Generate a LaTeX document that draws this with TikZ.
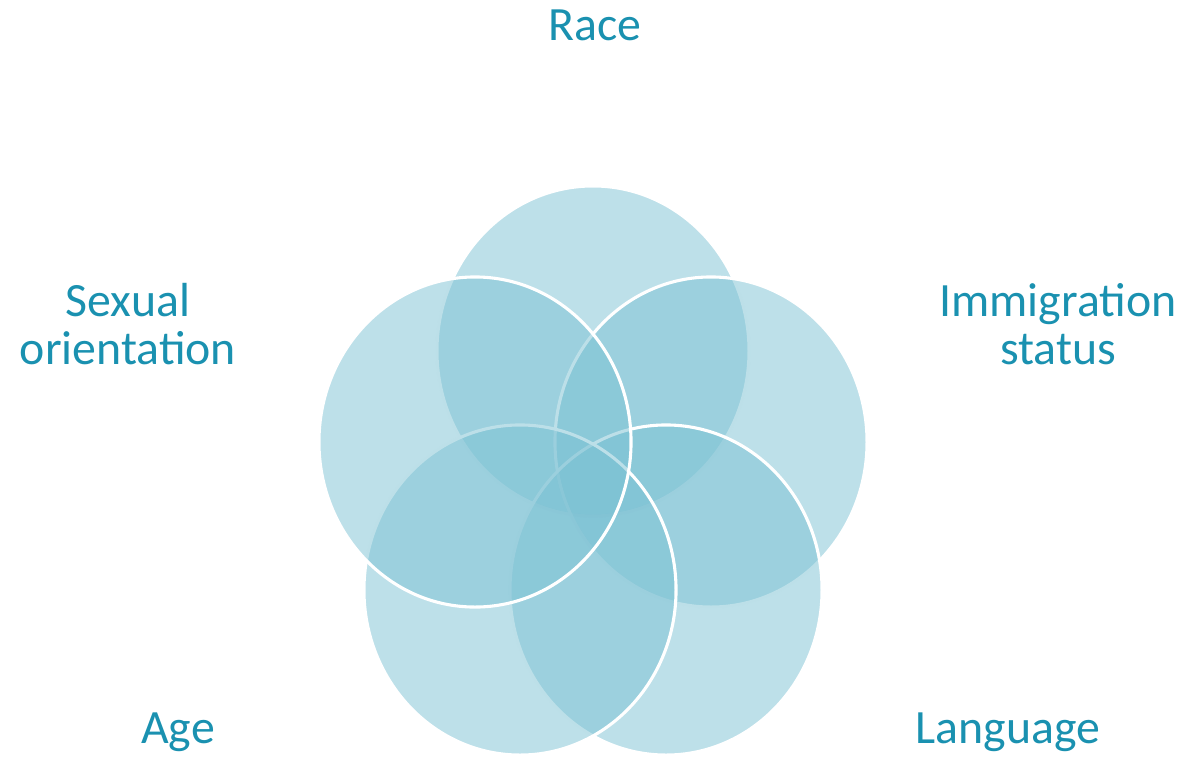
\documentclass[tikz,border=0pt]{standalone}
\usepackage{fontspec}
\setmainfont{Carlito}
\usetikzlibrary{shapes.geometric}

\definecolor{circfill}{RGB}{123,193,211}
\definecolor{labeltext}{RGB}{26,145,176}

\begin{document}
\begin{tikzpicture}[x=0.025cm,y=-0.025cm]

        \useasboundingbox (0,0) rectangle (1189,758);

        % the five overlapping circles, drawn clockwise from the top
        \begin{scope}[every node/.style={ellipse, fill=circfill, fill opacity=.5,
            draw=white, line width=2.2pt, minimum width=7.8cm, minimum height=8.25cm, inner sep=0pt}]
          \node (race)   at (593,351) {};
          \node (immig)  at (711,442) {};
          \node (lang)   at (666,590) {};
          \node (age)    at (520,590) {};
          \node (sexor)  at (475,442) {};
        \end{scope}

        % labels
        \begin{scope}[every node/.style={text=labeltext, align=center,
            font=\fontsize{34}{34}\selectfont}]
          \node (racetext)  at (595,25)   {Race};
          \node (immigtext) at (1058,324) {Immigration\\status};
          \node (langtext)  at (1008,732) {Language};
          \node (agetext)   at (178,732)  {Age};
          \node (sexortext) at (128,324)  {Sexual\\orientation};
        \end{scope}

      \end{tikzpicture}
\end{document}
